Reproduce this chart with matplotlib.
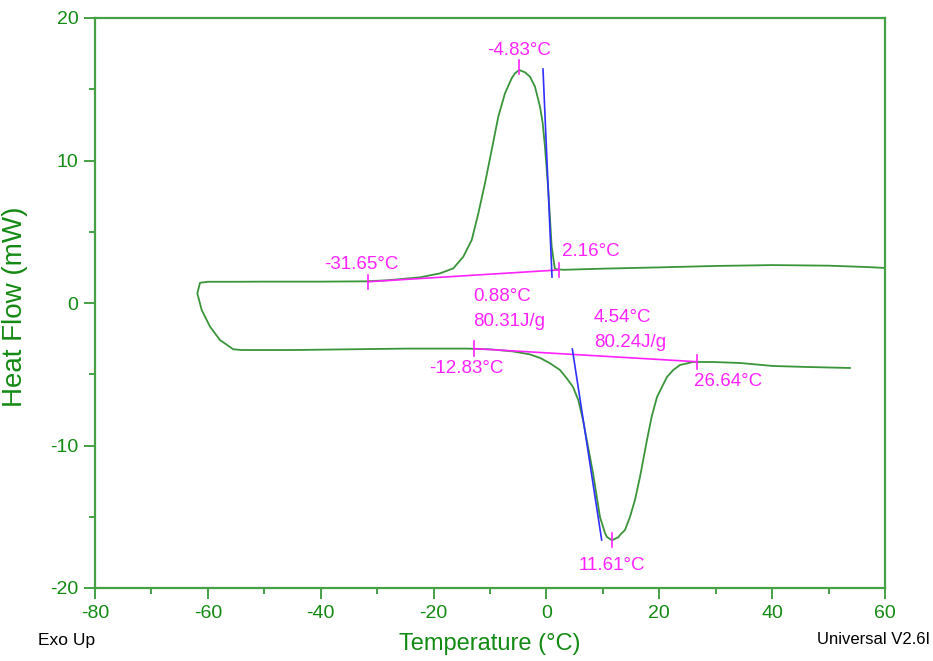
import matplotlib
matplotlib.use("Agg")
import matplotlib.pyplot as plt
from matplotlib.ticker import MultipleLocator

plt.rcParams['font.family'] = ['Liberation Sans', 'DejaVu Sans']
plt.rcParams['axes.unicode_minus'] = False

# DSC trace: cooling (upper branch, right to left) then heating (lower branch)
temp = [60, 57, 50, 40, 30, 20, 10, 3.0, 1.5, 0.93,
        0.33, -0.26, -0.66, -1.14, -2.03, -2.91, -3.8, -4.83, -5.57, -6.16,
        -7.34, -8.53, -9.70, -10.89, -12.07, -13.24, -14.73, -16.5, -18.86, -22.41,
        -28, -32, -40, -50, -55, -60, -61.39, -61.87, -61.09, -59.62,
        -57.85, -55.49, -54, -45, -35, -25, -14.1, -10, -5.9, -3,
        -1.1, 0.63, 2.4, 3.59, 4.71, 5.65, 6.48, 8.25, 9.49, 10.38,
        10.73, 11.61, 12.74, 13.03, 13.92, 14.80, 15.69, 16.58, 17.82, 18.65,
        19.59, 21.36, 22.48, 23.67, 25.97, 29.51, 34.30, 40.15, 46.17, 53.79]
heat_flow = [2.46, 2.52, 2.62, 2.66, 2.6, 2.5, 2.41, 2.33, 2.38, 3.95,
             7.93, 10.97, 12.61, 13.78, 15.18, 15.88, 16.19, 16.35, 16.12, 15.77,
             14.72, 13.08, 10.74, 8.4, 6.29, 4.42, 3.25, 2.43, 2.08, 1.80,
             1.6, 1.52, 1.5, 1.5, 1.49, 1.49, 1.42, 0.68, -0.49, -1.66,
             -2.6, -3.25, -3.3, -3.3, -3.25, -3.2, -3.2, -3.25, -3.4, -3.6,
             -3.86, -4.23, -4.70, -5.28, -5.89, -6.81, -8.21, -11.93, -15.02, -16.14,
             -16.42, -16.65, -16.44, -16.28, -15.93, -15.02, -13.82, -12.21, -9.61, -7.98,
             -6.60, -5.19, -4.70, -4.35, -4.14, -4.14, -4.21, -4.42, -4.49, -4.56]

# integration baselines (start, end)
base_cool_t = [-31.65, 2.16]
base_cool_y = [1.49, 2.32]
base_heat_t = [-12.83, 26.64]
base_heat_y = [-3.2, -4.12]

# onset tangents
tan_cool_t = [-0.61, 0.99]
tan_cool_y = [16.42, 1.82]
tan_heat_t = [4.59, 9.79]
tan_heat_y = [-3.23, -16.63]

# marker ticks (temperature, heat flow at marker)
mark_t = [-4.83, 2.16, -31.65, -12.83, 26.64, 11.61]
mark_y = [16.55, 2.32, 1.49, -3.2, -4.12, -16.65]

GREEN_AX = '#44a244'
GREEN_TXT = '#138a13'
CURVE = '#3a943a'
PINK = '#ff22ff'
BLUE = '#3030ff'

fig = plt.figure(figsize=(9.33, 6.61), dpi=100)
ax = fig.add_axes([95 / 933, 73 / 661, 790 / 933, 570 / 661])

ax.plot(temp, heat_flow, color=CURVE, lw=1.3)
ax.plot(base_cool_t, base_cool_y, color=PINK, lw=1.2)
ax.plot(base_heat_t, base_heat_y, color=PINK, lw=1.2)
ax.plot(tan_cool_t, tan_cool_y, color=BLUE, lw=1.2)
ax.plot(tan_heat_t, tan_heat_y, color=BLUE, lw=1.2)
for t, y in zip(mark_t, mark_y):
    ax.plot([t, t], [y - 0.5, y + 0.5], color=PINK, lw=1.2)

fs = 13.5
ax.text(-4.83, 17.72, '-4.83°C', color=PINK, fontsize=fs, ha='center', va='center')
ax.text(2.76, 3.6, '2.16°C', color=PINK, fontsize=fs, ha='left', va='center')
ax.text(-32.77, 2.67, '-31.65°C', color=PINK, fontsize=fs, ha='center', va='center')
ax.text(-13.0, 0.49, '0.88°C', color=PINK, fontsize=fs, ha='left', va='center')
ax.text(-13.0, -1.3, '80.31J/g', color=PINK, fontsize=fs, ha='left', va='center')
ax.text(8.43, -1.05, '4.54°C', color=PINK, fontsize=fs, ha='left', va='center')
ax.text(8.43, -2.74, '80.24J/g', color=PINK, fontsize=fs, ha='left', va='center')
ax.text(-14.25, -4.58, '-12.83°C', color=PINK, fontsize=fs, ha='center', va='center')
ax.text(26.15, -5.54, '26.64°C', color=PINK, fontsize=fs, ha='left', va='center')
ax.text(11.62, -18.39, '11.61°C', color=PINK, fontsize=fs, ha='center', va='center')

ax.set_xlim(-80, 60)
ax.set_ylim(-20, 20)
ax.xaxis.set_major_locator(MultipleLocator(20))
ax.xaxis.set_minor_locator(MultipleLocator(10))
ax.yaxis.set_major_locator(MultipleLocator(10))
ax.yaxis.set_minor_locator(MultipleLocator(5))
ax.tick_params(which='major', direction='out', length=8, width=1.4,
               color=GREEN_AX, labelcolor=GREEN_TXT, labelsize=14, pad=4)
ax.tick_params(which='minor', direction='out', length=4, width=1.4, color=GREEN_AX)
for s in ax.spines.values():
    s.set_color(GREEN_AX)
    s.set_linewidth(1.6)

ax.set_xlabel('Temperature (°C)', color=GREEN_TXT, fontsize=17, labelpad=8)
ax.set_ylabel('Heat Flow (mW)', color=GREEN_TXT, fontsize=20)
ax.yaxis.set_label_coords(-0.085, 0.494)

fig.text(38 / 933, 1 - 640 / 661, 'Exo Up', color='black', fontsize=12.5, va='center')
fig.text(817 / 933, 1 - 640 / 661, 'Universal V2.6I', color='black', fontsize=12,
         va='center')

fig.savefig('out.png', dpi=100)
